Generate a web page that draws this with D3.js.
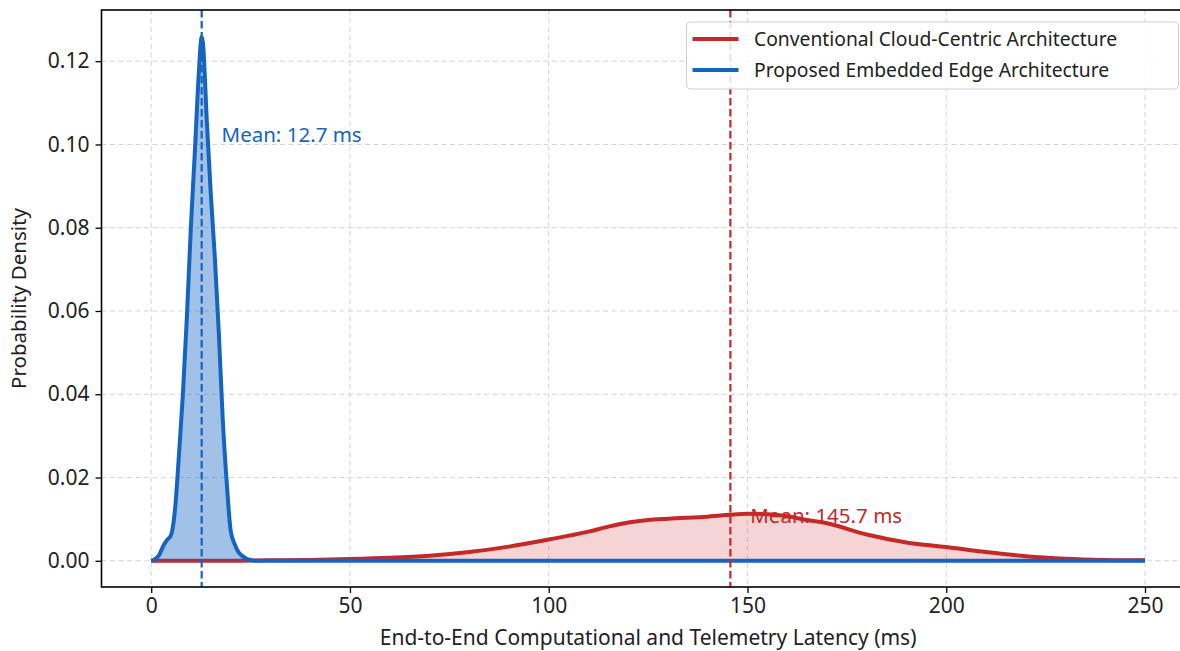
<!DOCTYPE html>
<html>
<head>
<meta charset="utf-8">
<script src="https://cdn.jsdelivr.net/npm/d3@7"></script>
<style>
  body { margin: 0; background: #fff; }
  svg text { font-family: "Noto Sans", sans-serif; fill: #222; }
</style>
</head>
<body>
<div id="chart"></div>
<script>
// latency values (ms) and estimated densities
var edgeX = [0, 1, 2, 3, 4, 5, 6, 7, 8, 9, 10, 11, 12, 12.7, 13, 14, 15, 16, 17, 18, 19, 20, 21, 22, 23, 24, 25, 26, 250];
var edgeY = [0, 0.0004, 0.0014, 0.0035, 0.005, 0.0062, 0.0124, 0.0257, 0.0404, 0.059, 0.0805, 0.0985, 0.1175, 0.1258, 0.1245, 0.1055, 0.088, 0.073, 0.055, 0.034, 0.0188, 0.0072, 0.004, 0.002, 0.0011, 0.0005, 0.0002, 0, 0];

var cloudX = [0, 10, 20, 30, 40, 50, 60, 70, 80, 90, 100, 110, 115, 120, 125, 130, 140, 150, 155, 160, 165, 170, 180, 190, 200, 210, 220, 230, 240, 250];
var cloudY = [0, 0, 0, 0.0001, 0.0002, 0.0004, 0.0007, 0.0012, 0.0021, 0.0034, 0.0051, 0.007, 0.0082, 0.0092, 0.0098, 0.0101, 0.0106, 0.0113, 0.0112, 0.0107, 0.0098, 0.009, 0.0063, 0.0044, 0.0033, 0.0021, 0.0011, 0.0005, 0.0002, 0.0001];

var seriesNames = ["Conventional Cloud-Centric Architecture", "Proposed Embedded Edge Architecture"];
var means = [145.7, 12.7];
var xTicks = [0, 50, 100, 150, 200, 250];
var yTicks = [0, 0.02, 0.04, 0.06, 0.08, 0.10, 0.12];

var red = "#c62828", blue = "#1565c0";

var W = 1180, H = 651;
var margin = {top: 10, left: 101.5};
var plotW = 1093.2, plotH = 577;

var svg = d3.select("#chart").append("svg")
    .attr("width", W).attr("height", H);

var x = d3.scaleLinear().domain([-12.5, 262.5]).range([margin.left, margin.left + plotW]);
var y = d3.scaleLinear().domain([-0.0063, 0.1323]).range([margin.top + plotH, margin.top]);

// grid
var grid = svg.append("g");
grid.selectAll(".gx").data(xTicks).enter().append("line")
    .attr("x1", function(d) { return x(d); }).attr("x2", function(d) { return x(d); })
    .attr("y1", margin.top).attr("y2", margin.top + plotH)
    .attr("stroke", "#d4d4d4").attr("stroke-width", 1).attr("stroke-dasharray", "5,3.5");
grid.selectAll(".gy").data(yTicks).enter().append("line")
    .attr("y1", function(d) { return y(d); }).attr("y2", function(d) { return y(d); })
    .attr("x1", margin.left).attr("x2", margin.left + plotW)
    .attr("stroke", "#d4d4d4").attr("stroke-width", 1).attr("stroke-dasharray", "5,3.5");

function series(xs, ys) {
  return xs.map(function(v, i) { return [v, ys[i]]; });
}
var cloud = series(cloudX, cloudY);
var edge = series(edgeX, edgeY);

var area = d3.area()
    .x(function(d) { return x(d[0]); })
    .y0(y(0))
    .y1(function(d) { return y(d[1]); })
    .curve(d3.curveMonotoneX);
var line = d3.line()
    .x(function(d) { return x(d[0]); })
    .y(function(d) { return y(d[1]); })
    .curve(d3.curveMonotoneX);

// cloud first, edge on top
svg.append("path").datum(cloud).attr("d", area).attr("fill", red).attr("fill-opacity", 0.2);
svg.append("path").datum(cloud).attr("d", line).attr("fill", "none")
    .attr("stroke", red).attr("stroke-width", 4).attr("stroke-linejoin", "round");
svg.append("path").datum(edge).attr("d", area).attr("fill", blue).attr("fill-opacity", 0.4);
svg.append("path").datum(edge).attr("d", line).attr("fill", "none")
    .attr("stroke", blue).attr("stroke-width", 4).attr("stroke-linejoin", "round");

// mean lines + labels
var peaks = [d3.max(cloudY), d3.max(edgeY)];
var cols = [red, blue];
means.forEach(function(m, i) {
  svg.append("line")
    .attr("x1", x(m)).attr("x2", x(m))
    .attr("y1", margin.top).attr("y2", margin.top + plotH)
    .attr("stroke", cols[i]).attr("stroke-width", 2.2).attr("stroke-dasharray", "7.5,3.5");
  svg.append("text")
    .attr("x", x(m + 5)).attr("y", y(peaks[i] * 0.8))
    .style("fill", cols[i]).style("font-size", "20.5px")
    .text("Mean: " + m + " ms");
});

// axes
var xAxis = svg.append("g")
    .attr("transform", "translate(0," + (margin.top + plotH) + ")")
    .call(d3.axisBottom(x).tickValues(xTicks).tickSize(6).tickPadding(5).tickFormat(d3.format("d")));
var yAxis = svg.append("g")
    .attr("transform", "translate(" + margin.left + ",0)")
    .call(d3.axisLeft(y).tickValues(yTicks).tickSize(6).tickPadding(6).tickFormat(d3.format(".2f")));
[xAxis, yAxis].forEach(function(a) {
  a.select(".domain").remove();
  a.selectAll(".tick line").attr("stroke", "#000").attr("stroke-width", 1.3);
  a.selectAll(".tick text").style("font-size", "21px").style("font-family", "'Noto Sans', sans-serif").attr("fill", "#111");
});

// spines
svg.append("rect")
    .attr("x", margin.left).attr("y", margin.top)
    .attr("width", plotW).attr("height", plotH)
    .attr("fill", "none").attr("stroke", "#000").attr("stroke-width", 1.6);

// axis labels
svg.append("text")
    .attr("x", x(125)).attr("y", 645)
    .attr("text-anchor", "middle").style("font-size", "21px")
    .text("End-to-End Computational and Telemetry Latency (ms)");
svg.append("text")
    .attr("transform", "translate(26," + (margin.top + plotH / 2 + 0) + ") rotate(-90)")
    .attr("text-anchor", "middle").style("font-size", "20.5px")
    .text("Probability Density");

// legend
var lg = svg.append("g").attr("transform", "translate(686.5,22)");
lg.append("rect").attr("width", 492).attr("height", 67).attr("rx", 4)
    .attr("fill", "#fff").attr("fill-opacity", 0.85)
    .attr("stroke", "#d0d0d0").attr("stroke-width", 1);
seriesNames.forEach(function(name, i) {
  var ry = 17 + i * 31;
  lg.append("line").attr("x1", 6).attr("x2", 52).attr("y1", ry).attr("y2", ry)
    .attr("stroke", cols[i]).attr("stroke-width", 4);
  lg.append("text").attr("x", 67.5).attr("y", ry).attr("dy", "0.35em")
    .style("font-size", "19.3px").text(name);
});
</script>
</body>
</html>
